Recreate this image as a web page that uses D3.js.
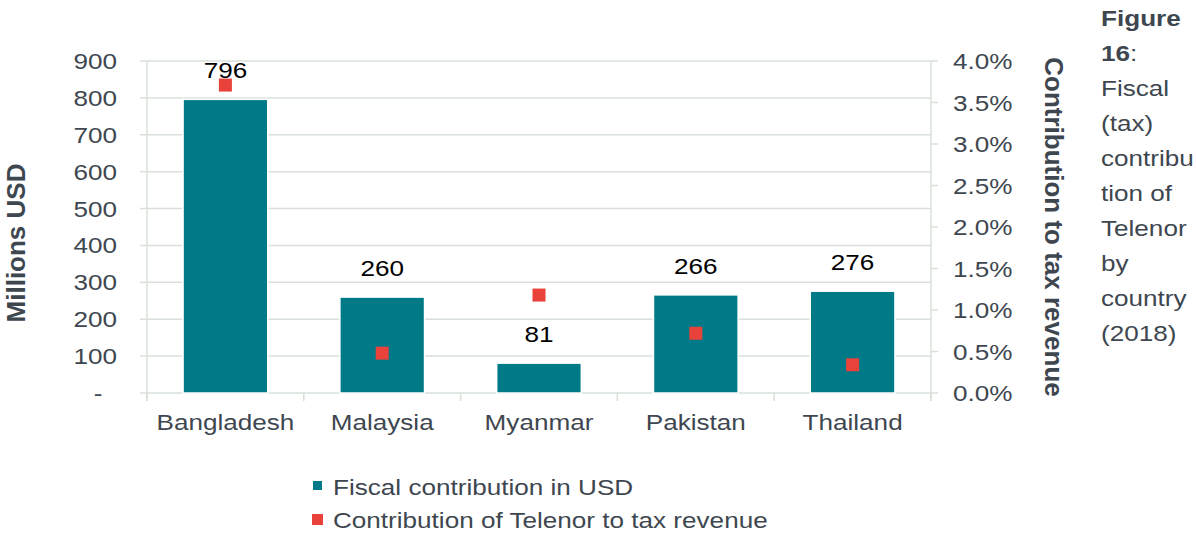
<!DOCTYPE html>
<html>
<head>
<meta charset="utf-8">
<script src="https://cdn.jsdelivr.net/npm/d3@7"></script>
<style>
  html, body { margin: 0; padding: 0; background: #fff; }
  svg { display: block; font-family: "Liberation Sans", Arial, sans-serif; }
</style>
</head>
<body>
<svg id="chart" width="1196" height="533"></svg>
<script>
// ---- data ----
const countries = ["Bangladesh", "Malaysia", "Myanmar", "Pakistan", "Thailand"];
const fiscalUSD = [796, 260, 81, 266, 276];
const taxShare = [0.0371, 0.0048, 0.0118, 0.0072, 0.0034];
const leftTicks = [0, 100, 200, 300, 400, 500, 600, 700, 800, 900];
const rightTicks = [0, 0.005, 0.01, 0.015, 0.02, 0.025, 0.03, 0.035, 0.04];
const seriesNames = ["Fiscal contribution in USD", "Contribution of Telenor to tax revenue"];
const captionLines = [["Figure", true], ["16", true, ":"], ["Fiscal"], ["(tax)"], ["contribu"], ["tion of"], ["Telenor"], ["by"], ["country"], ["(2018)"]];

// ---- style ----
const TEAL = "#007A87", RED = "#E8423A", GRID = "#d8e0d8", TXT = "#3e4750";
const SX = 1.16, FS = 22.5;

const svg = d3.select("#chart");
const L = 147, R = 931, T = 61, B = 393;

const x = d3.scaleBand().domain(countries).range([L, R]).paddingInner(0.46).paddingOuter(0.23);
const y = d3.scaleLinear().domain([0, 900]).range([B, T]);
const y2 = d3.scaleLinear().domain([0, 0.04]).range([B, T]);

function stext(g, xx, yy, str, anchor, opts = {}) {
  return g.append("text")
    .attr("transform", `translate(${xx},${yy}) scale(${SX},1)`)
    .attr("text-anchor", anchor)
    .attr("font-size", opts.fs || FS)
    .attr("font-weight", opts.bold ? "bold" : "normal")
    .attr("fill", opts.fill || TXT)
    .text(str);
}

// gridlines
svg.append("g").selectAll("line").data(leftTicks.slice(1)).join("line")
  .attr("x1", L).attr("x2", R).attr("y1", d => y(d)).attr("y2", d => y(d))
  .attr("stroke", GRID).attr("stroke-width", 1.5);

// left axis
const gl = svg.append("g");
gl.append("line").attr("x1", L).attr("x2", L).attr("y1", T).attr("y2", B + 8).attr("stroke", GRID).attr("stroke-width", 1.5);
gl.selectAll("line.t").data(leftTicks).join("line").attr("class", "t")
  .attr("x1", L - 7).attr("x2", L).attr("y1", d => y(d)).attr("y2", d => y(d))
  .attr("stroke", GRID).attr("stroke-width", 1.5);
leftTicks.forEach(d => {
  if (d === 0) stext(gl, 98, y(d) + 8, "-", "middle");
  else stext(gl, 117, y(d) + 8, String(d), "end");
});

// right axis
const gr = svg.append("g");
gr.append("line").attr("x1", R).attr("x2", R).attr("y1", T).attr("y2", B + 8).attr("stroke", GRID).attr("stroke-width", 1.5);
gr.selectAll("line.t").data(rightTicks).join("line").attr("class", "t")
  .attr("x1", R).attr("x2", R + 7).attr("y1", d => y2(d)).attr("y2", d => y2(d))
  .attr("stroke", GRID).attr("stroke-width", 1.5);
const pf = d3.format(".1%");
rightTicks.forEach(d => stext(gr, 953, y2(d) + 8, pf(d), "start"));

// x axis
const gx = svg.append("g");
gx.append("line").attr("x1", L).attr("x2", R).attr("y1", B).attr("y2", B).attr("stroke", GRID).attr("stroke-width", 1.5);
const step = x.step();
const bounds = d3.range(countries.length + 1).map(i => L + i * step);
gx.selectAll("line.t").data(bounds).join("line").attr("class", "t")
  .attr("x1", d => d).attr("x2", d => d).attr("y1", B).attr("y2", B + 8)
  .attr("stroke", GRID).attr("stroke-width", 1.5);
countries.forEach(c => stext(gx, x(c) + x.bandwidth() / 2, 430, c, "middle"));

// bars
svg.append("g").selectAll("rect").data(countries).join("rect")
  .attr("x", d => x(d)).attr("width", x.bandwidth())
  .attr("y", (d, i) => y(fiscalUSD[i])).attr("height", (d, i) => B - y(fiscalUSD[i]))
  .attr("fill", TEAL).attr("stroke", "#fff").attr("stroke-width", 1.5);

// value labels
const gv = svg.append("g");
countries.forEach((c, i) => stext(gv, x(c) + x.bandwidth() / 2, y(fiscalUSD[i]) - 21, String(fiscalUSD[i]), "middle", { fill: "#000" }));

// red squares
const SQ = 13;
svg.append("g").selectAll("rect").data(countries).join("rect")
  .attr("x", d => x(d) + x.bandwidth() / 2 - SQ / 2)
  .attr("y", (d, i) => y2(taxShare[i]) - SQ / 2)
  .attr("width", SQ).attr("height", SQ).attr("fill", RED);

// axis titles
svg.append("text").attr("transform", `translate(25,${(T + B) / 2 + 16}) rotate(-90)`)
  .attr("text-anchor", "middle").attr("font-size", 26).attr("font-weight", "bold").attr("fill", TXT)
  .text("Millions  USD");
svg.append("text").attr("transform", `translate(1045,${(T + B) / 2}) rotate(90)`)
  .attr("text-anchor", "middle").attr("font-size", 26).attr("font-weight", "bold").attr("fill", TXT)
  .text("Contribution to tax revenue");

// legend
const lg = svg.append("g");
lg.append("rect").attr("x", 313).attr("y", 481).attr("width", 9).attr("height", 9).attr("fill", TEAL);
lg.append("rect").attr("x", 312).attr("y", 514).attr("width", 11).attr("height", 11).attr("fill", RED);
stext(lg, 333, 495, seriesNames[0], "start");
stext(lg, 333, 528, seriesNames[1], "start");

// caption
const gc = svg.append("g");
captionLines.forEach((ln, i) => {
  const t = gc.append("text")
    .attr("transform", `translate(1101,${26 + i * 35}) scale(${SX},1)`)
    .attr("font-size", FS).attr("fill", TXT);
  t.append("tspan").attr("font-weight", ln[1] ? "bold" : "normal").text(ln[0]);
  if (ln[2]) t.append("tspan").text(ln[2]);
});
</script>
</body>
</html>
